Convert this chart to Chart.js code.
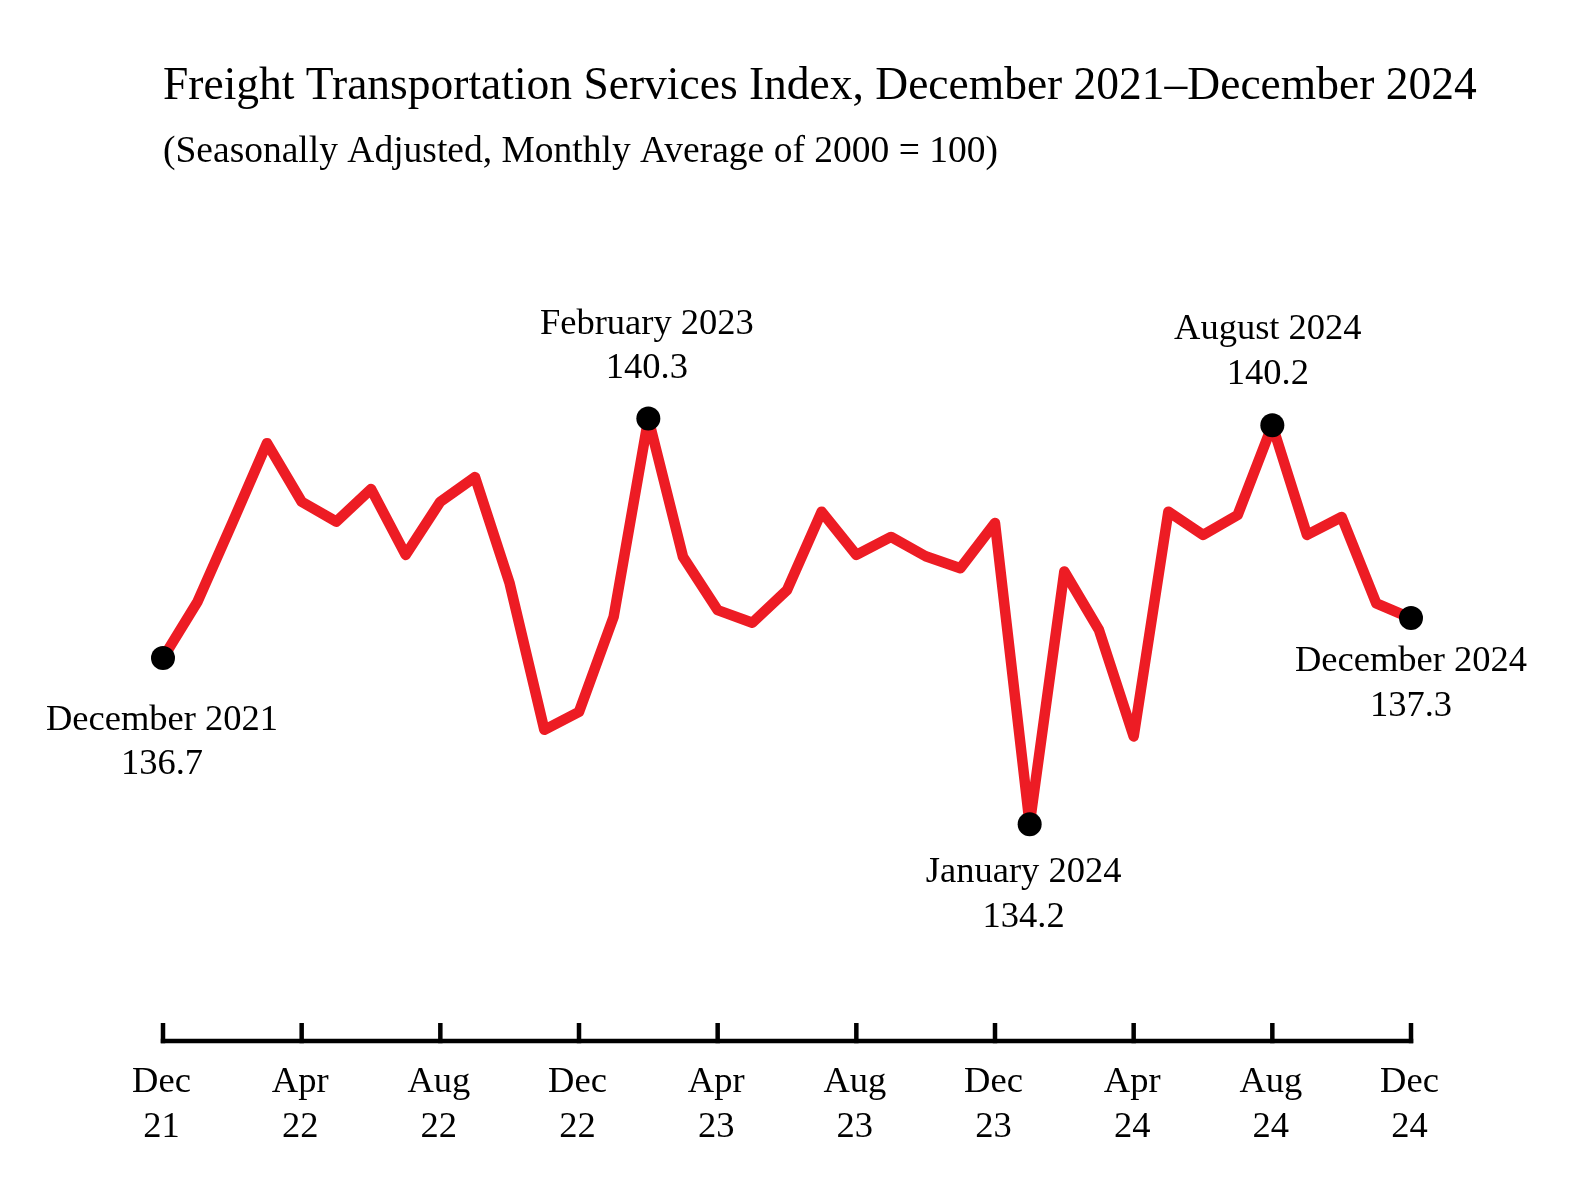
<!DOCTYPE html>
<html lang="en">
	<head>
		<meta charset="UTF-8" />
		<script src="https://cdn.jsdelivr.net/npm/chart.js@4.4.0/dist/chart.umd.min.js"></script>
		<title>Freight Transportation Services Index</title>
		<style>
			html, body { margin: 0; padding: 0; background: #fff; overflow: hidden; }
		</style>
	</head>
	<body>
		<canvas id="chart" width="1577" height="1192"></canvas>
		<script>
			// monthly categories, Dec 2021 - Dec 2024
			const months = [
				'Dec 21', 'Jan 22', 'Feb 22', 'Mar 22', 'Apr 22', 'May 22', 'Jun 22', 'Jul 22', 'Aug 22', 'Sep 22', 'Oct 22', 'Nov 22',
				'Dec 22', 'Jan 23', 'Feb 23', 'Mar 23', 'Apr 23', 'May 23', 'Jun 23', 'Jul 23', 'Aug 23', 'Sep 23', 'Oct 23', 'Nov 23',
				'Dec 23', 'Jan 24', 'Feb 24', 'Mar 24', 'Apr 24', 'May 24', 'Jun 24', 'Jul 24', 'Aug 24', 'Sep 24', 'Oct 24', 'Nov 24',
				'Dec 24'
			];

			// index values (2000 = 100)
			const values = [
				136.7, 137.55, 138.73, 139.93, 139.05, 138.75, 139.24, 138.25, 139.05, 139.42, 137.82, 135.62,
				135.89, 137.32, 140.3, 138.22, 137.42, 137.23, 137.72, 138.9, 138.25, 138.52, 138.23, 138.05,
				138.73, 134.2, 138.0, 137.12, 135.52, 138.9, 138.55, 138.85, 140.2, 138.55, 138.82, 137.52,
				137.3
			];

			// axis ticks every four months
			const tickEvery = 4;

			// labelled points
			const callouts = [
				{ i: 0, name: 'December 2021' },
				{ i: 14, name: 'February 2023' },
				{ i: 25, name: 'January 2024' },
				{ i: 32, name: 'August 2024' },
				{ i: 36, name: 'December 2024' }
			];

			const titleText = 'Freight Transportation Services Index, December 2021\u2013December 2024';
			const subtitleText = '(Seasonally Adjusted, Monthly Average of 2000 = 100)';

			// placement of callout text relative to its point: dx, baseline dy of first line
			const calloutPos = {
				0: [-1, 72],
				14: [-1.5, -85],
				25: [-6, 58],
				32: [-4.5, -86],
				36: [0, 53]
			};

			const SERIF = '"Liberation Serif", "Times New Roman", serif';
			const RED = '#ED1C24';
			const callIdx = callouts.map((c) => c.i);

			const decorations = {
				id: 'decorations',
				afterDatasetsDraw(chart) {
					const { ctx, chartArea } = chart;
					const x = chart.scales.x;
					const y = chart.scales.y;
					const axisY = chartArea.bottom;

					ctx.save();

					// title and subtitle
					ctx.fillStyle = '#000';
					ctx.textAlign = 'left';
					ctx.textBaseline = 'alphabetic';
					ctx.font = '45.5px ' + SERIF;
					ctx.fillText(titleText, 163, 99);
					ctx.font = '37.5px ' + SERIF;
					ctx.fillText(subtitleText, 163, 162);

					// x axis line with ticks pointing up
					ctx.strokeStyle = '#000';
					ctx.lineWidth = 4.5;
					ctx.lineCap = 'butt';
					const x0 = x.getPixelForValue(0);
					const x1 = x.getPixelForValue(months.length - 1);
					ctx.beginPath();
					ctx.moveTo(x0 - 2.25, axisY);
					ctx.lineTo(x1 + 2.25, axisY);
					ctx.stroke();

					ctx.font = '36.5px ' + SERIF;
					ctx.textAlign = 'center';
					months.forEach((m, i) => {
						if (i % tickEvery !== 0) return;
						const px = x.getPixelForValue(i);
						ctx.beginPath();
						ctx.moveTo(px, axisY - 18);
						ctx.lineTo(px, axisY + 2.25);
						ctx.stroke();
						const parts = m.split(' ');
						ctx.fillText(parts[0], px - 1.5, axisY + 51);
						ctx.fillText(parts[1], px - 1.5, axisY + 96);
					});

					// callouts
					ctx.font = '36.5px ' + SERIF;
					callouts.forEach((c) => {
						const [dx, dy] = calloutPos[c.i];
						const px = x.getPixelForValue(c.i) + dx;
						const py = y.getPixelForValue(values[c.i]) + dy;
						ctx.fillText(c.name, px, py);
						ctx.fillText(values[c.i].toFixed(1), px, py + 44.5);
					});

					ctx.restore();
				}
			};

			new Chart(document.getElementById('chart').getContext('2d'), {
				type: 'line',
				data: {
					labels: months,
					datasets: [
						{
							data: values,
							borderColor: RED,
							borderWidth: 10.5,
							borderJoinStyle: 'round',
							borderCapStyle: 'butt',
							tension: 0,
							fill: false,
							clip: false,
							pointRadius: values.map((v, i) => (callIdx.includes(i) ? 12 : 0)),
							pointHoverRadius: values.map((v, i) => (callIdx.includes(i) ? 12 : 0)),
							pointBackgroundColor: '#000',
							pointBorderWidth: 0
						}
					]
				},
				options: {
					responsive: false,
					devicePixelRatio: 1,
					animation: false,
					events: [],
					layout: {
						padding: { left: 163, right: 166, top: 200, bottom: 151 }
					},
					scales: {
						x: { type: 'category', display: false, offset: false },
						y: { display: false, min: 130.94, max: 143.587 }
					},
					plugins: {
						legend: { display: false },
						tooltip: { enabled: false },
						title: { display: false }
					}
				},
				plugins: [decorations]
			});
		</script>
	</body>
</html>
